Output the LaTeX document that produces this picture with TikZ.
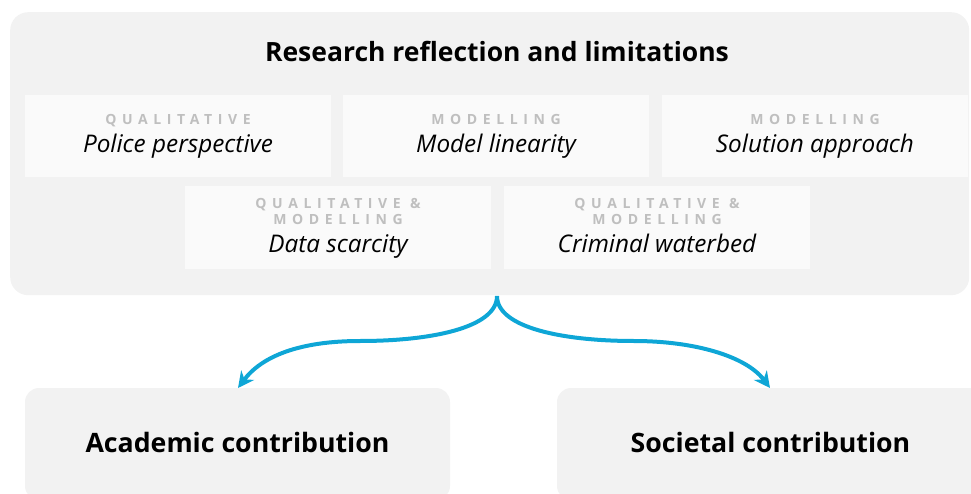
\documentclass[tikz,border=0pt]{standalone}
\usepackage{fontspec}
\setmainfont{Open Sans}
\newfontfamily\catfont[LetterSpace=40]{Open Sans Bold}
\usetikzlibrary{arrows.meta}
\definecolor{bigbg}{HTML}{F2F2F2}
\definecolor{innerbg}{HTML}{FAFAFA}
\definecolor{catgray}{HTML}{BFBFBF}
\definecolor{arrowblue}{HTML}{0EA6D6}
\tikzset{
  bigbox/.style={fill=bigbg, rounded corners=18pt, inner sep=0pt, anchor=north west},
  innerbox/.style={fill=innerbg, minimum width=306pt, minimum height=82pt, inner sep=0pt, anchor=north west},
  contribbox/.style={fill=bigbg, rounded corners=14pt, minimum height=112pt, inner sep=0pt},
  contribtext/.style={anchor=base, inner sep=0pt, font=\fontsize{26.7}{30}\selectfont\bfseries},
  cat/.style={anchor=base, inner sep=0pt, font=\catfont\fontsize{14}{17}\selectfont, text=catgray},
  itl/.style={anchor=base, inner sep=0pt, font=\fontsize{24.3}{28}\selectfont\itshape},
  flow/.style={draw=arrowblue, line width=4pt, -{Stealth[length=16pt,width=16pt]}},
}
\begin{document}
\begin{tikzpicture}[x=1pt,y=-1pt]
\useasboundingbox (0,0) rectangle (971,494);
\clip (0,0) rectangle (971,494);
% main panel
\node[bigbox, minimum width=959pt, minimum height=283pt] (panel) at (10,12) {};
\node[anchor=base, inner sep=0pt, font=\fontsize{26.5}{30}\selectfont\bfseries] (title) at (497,62) {Research reflection and limitations};
% inner boxes
\node[innerbox] (b1) at (25,95) {};
\node[innerbox] (b2) at (343,95) {};
\node[innerbox] (b3) at (662,95) {};
\node[innerbox, minimum height=83pt] (b4) at (185,186) {};
\node[innerbox, minimum height=83pt] (b5) at (504,186) {};
% labels
\node[cat] (b1c) at (178,125) {QUALITATIVE};
\node[itl] (b1t) at (178,153) {Police perspective};
\node[cat] (b2c) at (496,125) {MODELLING};
\node[itl] (b2t) at (496,153) {Model linearity};
\node[cat] (b3c) at (815,125) {MODELLING};
\node[itl] (b3t) at (815,153) {Solution approach};
\node[cat] (b4c) at (338,209) {QUALITATIVE \&};
\node[cat] (b4d) at (338,225) {MODELLING};
\node[itl] (b4t) at (338,253) {Data scarcity};
\node[cat] (b5c) at (657,209) {QUALITATIVE \&};
\node[cat] (b5d) at (657,225) {MODELLING};
\node[itl] (b5t) at (657,253) {Criminal waterbed};
% contributions
\node[contribbox, minimum width=425pt] (acad) at (237.5,444) {};
\node[contribbox, minimum width=427pt] (soc) at (770.5,444) {};
\node[contribtext] (acadt) at (237.5,452.5) {Academic contribution};
\node[contribtext] (soct) at (770.5,452.5) {Societal contribution};
% connectors
\coordinate (fork) at (497,296);
\coordinate (acadin) at (238,388);
\coordinate (socin) at (770,388);
\draw[flow] (fork) .. controls (497,328) and (430,341) .. (360,341) .. controls (300,341) and (262,356) .. (acadin);
\draw[flow] (fork) .. controls (497,328) and (564,341) .. (634,341) .. controls (694,341) and (746,356) .. (socin);
\end{tikzpicture}
\end{document}
